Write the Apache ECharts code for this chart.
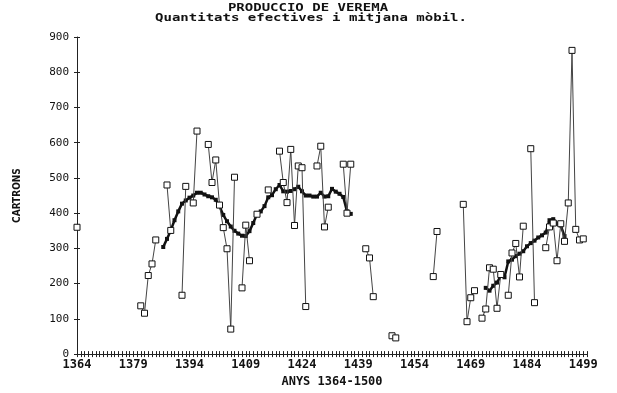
<!DOCTYPE html>
<html>
<head>
<meta charset="utf-8">
<script src="https://cdn.jsdelivr.net/npm/echarts@6/dist/echarts.min.js"></script>
<style>
html,body{margin:0;padding:0;background:#fff;}
#chart{width:617px;height:393px;}
</style>
</head>
<body>
<div id="chart"></div>
<script>
// Effective yearly quantities (cartrons); missing years break the line
const effYears = [1364, 1381,1382,1383,1384,1385, 1388,1389, 1392,1393, 1395,1396,
  1399,1400,1401,1402,1403,1404,1405,1406, 1408,1409,1410, 1412, 1415,
  1418,1419,1420,1421,1422,1423,1424,1425, 1428,1429,1430,1431, 1435,1436,1437,
  1441,1442,1443, 1448,1449, 1459,1460, 1467,1468,1469,1470,
  1472,1473,1474,1475,1476,1477, 1479,1480,1481,1482,1483, 1485,1486,
  1489,1490,1491,1492,1493,1494,1495,1496,1497,1498,1499];
const effValues = [360, 137,116,223,256,324, 480,351, 167,476, 429,633,
  595,487,551,423,359,299,71,502, 188,366,265, 397, 466,
  576,487,430,581,365,534,529,135, 534,590,361,417, 539,400,539,
  299,273,163, 52,46, 220,348, 425,92,160,180,
  102,128,245,241,130,226, 167,287,314,219,363, 583,146,
  302,361,372,265,370,320,429,862,354,324,327];

// Moving average
const maYears = [1387,1388,1389,1390,1391,1392,1393,1394,1395,1396,1397,1398,1399,1400,
  1401,1402,1403,1404,1405,1406,1407,1408,1409,1410,1411,1412,1413,1414,1415,1416,1417,
  1418,1419,1420,1421,1422,1423,1424,1425,1426,1427,1428,1429,1430,1431,1432,1433,1434,
  1435,1436,1437,
  1473,1474,1475,1476,1477,1478,1479,1480,1481,1482,1483,1484,1485,1486,1487,1488,1489,
  1490,1491,1492,1493,1494];
const maValues = [304,327,351,380,405,427,436,444,450,458,458,453,448,445,
  438,420,395,377,362,350,342,336,335,349,372,397,405,420,445,451,468,
  480,462,461,463,468,475,462,450,450,447,447,458,447,448,469,461,455,
  446,405,398,
  188,180,194,203,222,218,263,268,278,285,292,306,315,322,331,337,345,
  380,383,370,365,335];

const xLabels = [1364,1379,1394,1409,1424,1439,1454,1469,1484,1499];
const yTicks = [0,100,200,300,400,500,600,700,800,900];

function build(yrs, vals) {
  const out = [];
  for (let i = 0; i < yrs.length; i++) {
    if (i > 0 && yrs[i] - yrs[i - 1] > 1) out.push([(yrs[i] + yrs[i - 1]) / 2, '-']);
    out.push([yrs[i], vals[i]]);
  }
  return out;
}

const mono = 'DejaVu Sans Mono';
const chart = echarts.init(document.getElementById('chart'), null, {renderer: 'canvas'});
const option = {
  animation: false,
  backgroundColor: '#ffffff',
  graphic: [
    {type: 'text', x: 308, y: 8, scaleX: 1.4,
     style: {text: 'PRODUCCIO DE VEREMA', font: 'bold 10px "DejaVu Sans Mono"', fill: '#111', align: 'center', verticalAlign: 'middle'}},
    {type: 'text', x: 311, y: 18, scaleX: 1.4,
     style: {text: 'Quantitats efectives i mitjana mòbil.', font: 'bold 10px "DejaVu Sans Mono"', fill: '#111', align: 'center', verticalAlign: 'middle'}}
  ],
  grid: {left: 77, right: 30, top: 37, bottom: 29},
  xAxis: [
    {type: 'value', min: 1364, max: 1500, interval: 1,
     name: 'ANYS 1364-1500', nameLocation: 'middle', nameGap: 19,
     nameTextStyle: {fontFamily: mono, fontSize: 12, fontWeight: 'bold', color: '#111'},
     axisLine: {show: true, lineStyle: {color: '#222', width: 1}},
     axisTick: {show: true, length: 3, lineStyle: {color: '#222', width: 1}},
     axisLabel: {show: true, margin: 5, fontFamily: mono, fontSize: 12, color: '#111', fontWeight: 'bold',
       formatter: function (v) { return xLabels.indexOf(v) >= 0 ? String(v) : ''; }},
     splitLine: {show: false}},
    {type: 'value', min: 1364, max: 1500, interval: 1, position: 'bottom',
     axisLine: {show: false},
     axisTick: {show: true, inside: true, length: 3, lineStyle: {color: '#222', width: 1}},
     axisLabel: {show: false}, splitLine: {show: false}}
  ],
  yAxis: [
    {type: 'value', min: 0, max: 900, interval: 100,
     name: 'CARTRONS', nameLocation: 'middle', nameGap: 55,
     nameTextStyle: {fontFamily: 'DejaVu Sans Condensed', fontSize: 10, fontWeight: 'bold', color: '#111'},
     axisLine: {show: true, lineStyle: {color: '#222', width: 1}},
     axisTick: {show: true, length: 3, lineStyle: {color: '#222'}},
     axisLabel: {margin: 8, fontFamily: mono, fontSize: 11, color: '#111',
       formatter: function (v) { return yTicks.indexOf(v) >= 0 ? String(v) : ''; }},
     splitLine: {show: false}},
    {type: 'value', min: 0, max: 900, interval: 100, position: 'left',
     axisLine: {show: false},
     axisTick: {show: true, inside: true, length: 3, lineStyle: {color: '#222'}},
     axisLabel: {show: false}, splitLine: {show: false}}
  ],
  series: [
    {type: 'line', name: 'mitjana', xAxisIndex: 0, yAxisIndex: 0,
     data: build(maYears, maValues), connectNulls: false,
     symbol: 'rect', symbolSize: 4, showSymbol: true,
     lineStyle: {color: '#111', width: 2.5},
     itemStyle: {color: '#111'}, z: 3},
    {type: 'line', name: 'efectives', xAxisIndex: 0, yAxisIndex: 0,
     data: build(effYears, effValues), connectNulls: false,
     symbol: 'rect', symbolSize: 6, showSymbol: true,
     lineStyle: {color: '#444', width: 1},
     itemStyle: {color: '#fff', borderColor: '#111', borderWidth: 1}, z: 4}
  ]
};
chart.setOption(option);
</script>
</body>
</html>
